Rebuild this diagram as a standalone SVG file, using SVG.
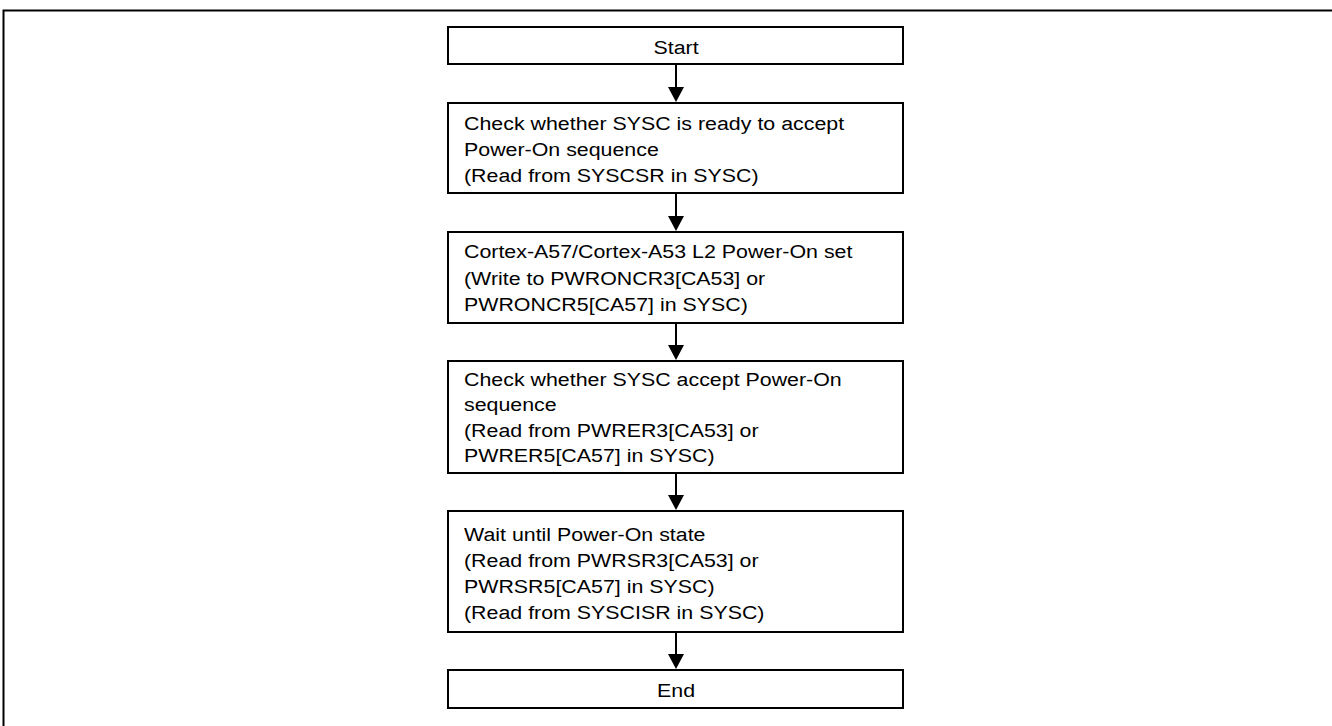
<svg xmlns="http://www.w3.org/2000/svg" width="1332" height="726" viewBox="0 0 1332 726">
<style>
.box{fill:#fff;stroke:#000;stroke-width:2}
.t{font-family:"Liberation Sans",Arial,sans-serif;font-size:19px;fill:#000}
.c{text-anchor:middle}
.conn line{stroke:#000;stroke-width:2}
</style>
<rect width="1332" height="726" fill="#fff"/>
<path d="M3.5,726 V10.5 H1332" fill="none" stroke="#000" stroke-width="2"/>
<g class="conn">
<line x1="676" y1="64" x2="676" y2="90"/>
<line x1="676" y1="193" x2="676" y2="219"/>
<line x1="676" y1="323" x2="676" y2="348"/>
<line x1="676" y1="473" x2="676" y2="498"/>
<line x1="676" y1="632" x2="676" y2="657"/>
<g fill="#000">
<path d="M668,87 L684,87 L676,102 Z"/>
<path d="M668,216 L684,216 L676,231 Z"/>
<path d="M668,345 L684,345 L676,360 Z"/>
<path d="M668,495 L684,495 L676,510 Z"/>
<path d="M668,654 L684,654 L676,669 Z"/>
</g>
</g>
<g id="start">
<rect class="box" x="448" y="27" width="455" height="37"/>
<text class="t c" transform="translate(676,54) scale(1.125,1)">Start</text>
</g>
<g id="step1">
<rect class="box" x="448" y="103" width="455" height="90"/>
<g transform="translate(464,0) scale(1.125,1)">
<text class="t" x="0" y="130.5">Check whether SYSC is ready to accept</text>
<text class="t" x="0" y="156.5">Power-On sequence</text>
<text class="t" x="0" y="182.5">(Read from SYSCSR in SYSC)</text>
</g>
</g>
<g id="step2">
<rect class="box" x="448" y="232" width="455" height="91"/>
<g transform="translate(464,0) scale(1.125,1)">
<text class="t" x="0" y="258.5">Cortex-A57/Cortex-A53 L2 Power-On set</text>
<text class="t" x="0" y="285">(Write to PWRONCR3[CA53] or</text>
<text class="t" x="0" y="311.5">PWRONCR5[CA57] in SYSC)</text>
</g>
</g>
<g id="step3">
<rect class="box" x="448" y="361" width="455" height="112"/>
<g transform="translate(464,0) scale(1.125,1)">
<text class="t" x="0" y="386">Check whether SYSC accept Power-On</text>
<text class="t" x="0" y="411.5">sequence</text>
<text class="t" x="0" y="437">(Read from PWRER3[CA53] or</text>
<text class="t" x="0" y="462.5">PWRER5[CA57] in SYSC)</text>
</g>
</g>
<g id="step4">
<rect class="box" x="448" y="511" width="455" height="121"/>
<g transform="translate(464,0) scale(1.125,1)">
<text class="t" x="0" y="541">Wait until Power-On state</text>
<text class="t" x="0" y="567">(Read from PWRSR3[CA53] or</text>
<text class="t" x="0" y="593">PWRSR5[CA57] in SYSC)</text>
<text class="t" x="0" y="619.5">(Read from SYSCISR in SYSC)</text>
</g>
</g>
<g id="end">
<rect class="box" x="448" y="670" width="455" height="38"/>
<text class="t c" transform="translate(676,697) scale(1.125,1)">End</text>
</g>
</svg>
